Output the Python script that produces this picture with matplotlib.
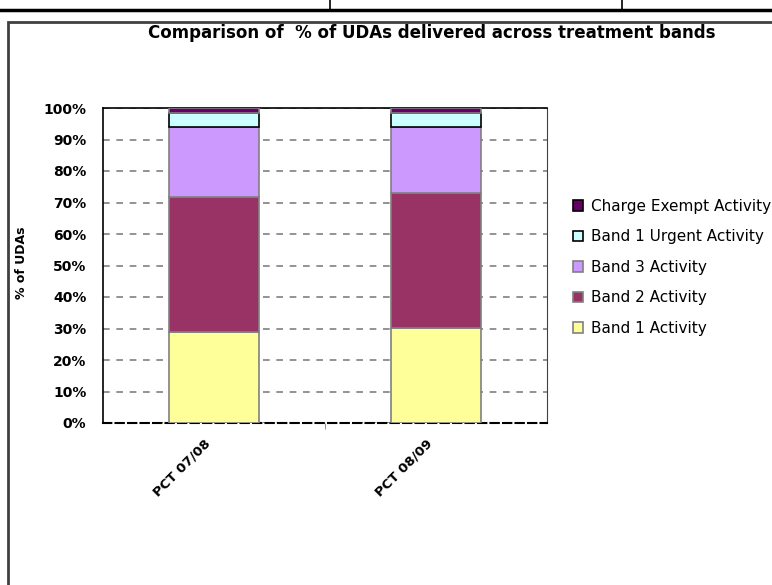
import numpy as np
import matplotlib
matplotlib.use("Agg")
import matplotlib.pyplot as plt
from matplotlib.patches import Patch, Rectangle
from matplotlib.lines import Line2D
from matplotlib.transforms import ScaledTranslation

# data (% of UDAs)
years = ["PCT 07/08", "PCT 08/09"]
band1 = [29.0, 30.1]
band2 = [42.8, 42.8]
band3 = [22.1, 21.0]
urgent = [4.6, 4.6]
exempt = [1.5, 1.5]

series = [
    ("Band 1 Activity", band1, "#FFFF99", "#808080"),
    ("Band 2 Activity", band2, "#993366", "#808080"),
    ("Band 3 Activity", band3, "#CC99FF", "#808080"),
    ("Band 1 Urgent Activity", urgent, "#CCFFFF", "#000000"),
    ("Charge Exempt Activity", exempt, "#660066", "#808080"),
]

fig = plt.figure(figsize=(7.72, 5.85), dpi=100)

# table lines at the top of the page
fig.add_artist(Line2D([0, 1], [1 - 10 / 585, 1 - 10 / 585], color="black", lw=2.5))
for xv in [330, 622]:
    fig.add_artist(Line2D([xv / 772, xv / 772], [1, 1 - 10 / 585], color="black", lw=1.2))

# chart frame
fig.add_artist(Rectangle((8 / 772, -0.05), 1.2, 1 - 22 / 585 + 0.05, fill=False,
                         edgecolor="#404040", lw=2, transform=fig.transFigure))

ax = fig.add_axes([103 / 772, 1 - 423 / 585, 444 / 772, 315 / 585])
x = np.arange(len(years))
bottom = np.zeros(len(years))
for name, vals, col, ec in series:
    ax.bar(x, vals, 0.405, bottom=bottom, color=col, edgecolor=ec, linewidth=1.2,
           label=name, zorder=3)
    bottom += np.array(vals)

ax.set_xlim(-0.5, 1.5)
ax.set_ylim(0, 100)
ax.set_yticks(np.arange(0, 101, 10))
ax.set_yticklabels([f"{v}%" for v in range(0, 101, 10)], fontsize=10, fontweight="bold")
ax.yaxis.grid(True, linestyle=(0, (4, 4)), color="#808080", lw=1.2, zorder=0)
ax.tick_params(axis="y", length=0, pad=12)

ax.set_xticks(x)
ax.set_xticklabels(years, rotation=45, ha="right", rotation_mode="anchor",
                   fontsize=9.5, fontweight="bold")
ax.tick_params(axis="x", length=0, pad=10)
for lab in ax.get_xticklabels():
    lab.set_transform(lab.get_transform() + ScaledTranslation(-10 / 100, 0, fig.dpi_scale_trans))
ax.set_xticks([0.5], minor=True)
ax.tick_params(axis="x", which="minor", length=4, color="#808080")

for s in ["left", "top"]:
    ax.spines[s].set_color("black")
    ax.spines[s].set_linewidth(1.2)
ax.spines["right"].set_color("#404040")
ax.spines["bottom"].set_linestyle((0, (4, 2)))
ax.spines["bottom"].set_linewidth(1.5)

ax.set_ylabel("% of UDAs", fontsize=9, fontweight="bold")
ax.yaxis.set_label_coords(-0.17, 0.51)

fig.text(432 / 772, 1 - 33 / 585, "Comparison of  % of UDAs delivered across treatment bands",
         ha="center", va="center", fontsize=12, fontweight="bold")

handles = [Patch(facecolor=c, edgecolor=("black" if e == "#000000" or n.startswith("Charge") else "#808080"), lw=1.2, label=n)
           for n, v, c, e in series][::-1]
fig.legend(handles=handles, loc="upper left", bbox_to_anchor=(565 / 772, 1 - 191 / 585),
           frameon=False, fontsize=11, handlelength=0.7, handleheight=0.7,
           handletextpad=0.5, labelspacing=1.02, borderpad=0)

fig.savefig("out.png", dpi=100)
